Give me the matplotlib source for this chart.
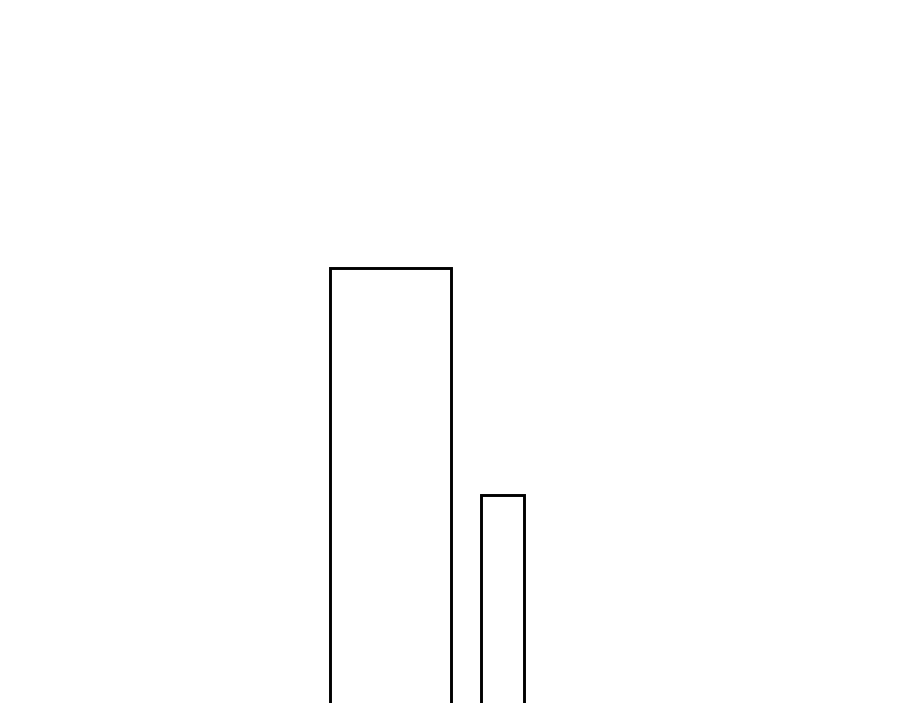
import matplotlib
matplotlib.use("Agg")
import matplotlib.pyplot as plt

categories = ["A", "B"]
values = [10, 6]

# layout (x positions/widths in axis units)
x_pos = [390.5, 502.5]
widths = [121, 43]

fig = plt.figure(figsize=(9, 7.03), dpi=100)
ax = fig.add_axes([0, 0, 1, 1])
ax.bar(x_pos, values, width=widths, facecolor="white", edgecolor="black",
       linewidth=2.1)
ax.set_xlim(0, 900)
ax.set_ylim(2.335, 14.72)
ax.axis("off")
fig.savefig("out.png", dpi=100, facecolor="white")
